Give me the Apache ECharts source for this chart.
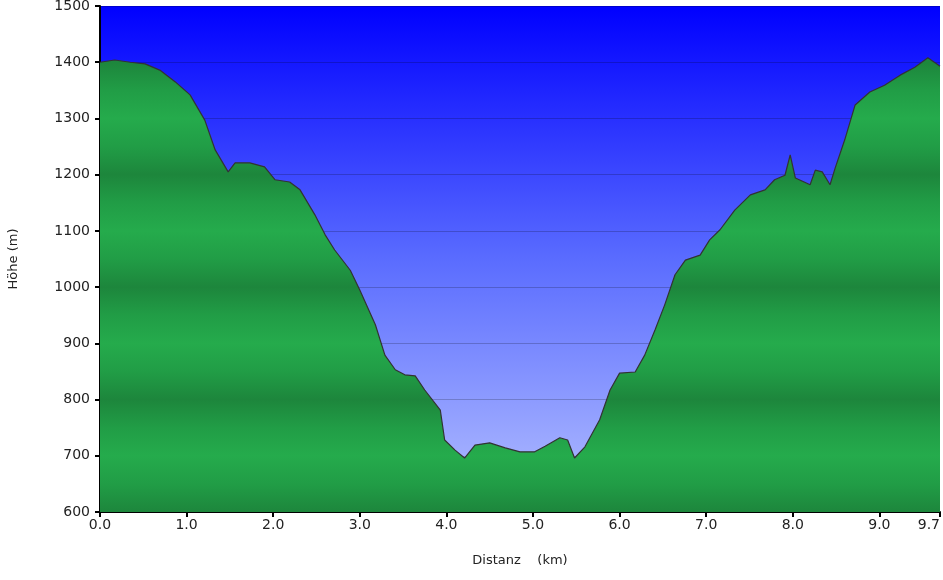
<!DOCTYPE html>
<html><head><meta charset="utf-8">
<script src="https://cdn.jsdelivr.net/npm/echarts@6/dist/echarts.min.js"></script>
<style>html,body{margin:0;padding:0;background:#fff}#c{width:943px;height:580px}</style>
</head><body><div id="c"></div>
<script>
const distKm = [0.00,0.17,0.35,0.52,0.69,0.87,1.04,1.21,1.33,1.48,1.56,1.73,1.90,2.02,2.19,2.31,2.48,2.60,2.71,2.89,3.00,3.18,3.29,3.41,3.52,3.64,3.75,3.93,3.98,4.10,4.21,4.33,4.50,4.68,4.85,5.02,5.14,5.31,5.40,5.48,5.60,5.77,5.89,6.00,6.18,6.29,6.41,6.52,6.64,6.76,6.93,7.04,7.16,7.33,7.51,7.68,7.79,7.91,7.97,8.03,8.20,8.26,8.34,8.43,8.49,8.60,8.72,8.89,9.06,9.24,9.41,9.56,9.70];
const elevM = [1400,1404,1400,1397,1386,1365,1342,1297,1244,1205,1221,1221,1214,1191,1187,1173,1129,1093,1066,1030,995,933,879,853,844,842,817,781,728,710,696,719,723,714,707,707,717,732,728,696,716,764,817,847,849,879,924,968,1022,1048,1057,1084,1102,1137,1164,1173,1191,1199,1235,1194,1182,1208,1205,1182,1212,1262,1324,1347,1359,1377,1391,1408,1393];
const xTicks = [0,1,2,3,4,5,6,7,8,9,9.7];

const gTop = 6, gBottom = 512;
const stops = [];
for (let e = 1500; e >= 600; e -= 50) {
  let c;
  if (e % 100 !== 0) c = '#219d46';
  else c = ([1300,1100,900,700].includes(e)) ? '#25ab4c' : '#1d863c';
  if (e === 1500) c = '#1d863c';
  stops.push({offset: (1500 - e) / 900, color: c});
}
const chart = echarts.init(document.getElementById('c'));
const font = 'DejaVu Sans';
chart.setOption({
  animation: false,
  grid: {left: 100, right: 3, top: gTop, bottom: 580 - gBottom, show: true, borderWidth: 0,
    outerBoundsMode: 'none', containLabel: false,
    backgroundColor: new echarts.graphic.LinearGradient(0, 0, 0, 1, [
      {offset: 0, color: '#0000ff'}, {offset: 0.5, color: '#5a6cff'}, {offset: 1, color: '#b5c0ff'}])},
  xAxis: {type: 'value', min: 0, max: 9.7, interval: 1,
    name: 'Distanz    (km)', nameLocation: 'middle', nameGap: 42,
    nameTextStyle: {fontFamily: font, fontSize: 13, color: '#222'},
    axisLine: {lineStyle: {color: '#000', width: 2}},
    axisTick: {show: true, customValues: xTicks, length: 5, lineStyle: {color: '#000', width: 2}},
    axisLabel: {customValues: xTicks, formatter: v => v.toFixed(1), fontFamily: font, fontSize: 14, color: '#222', margin: 6, alignMaxLabel: 'right'},
    splitLine: {show: false}},
  yAxis: {type: 'value', min: 600, max: 1500, interval: 100,
    name: 'Höhe (m)', nameLocation: 'middle', nameGap: 80, nameRotate: 90,
    nameTextStyle: {fontFamily: font, fontSize: 13, color: '#222'},
    axisLine: {show: true, lineStyle: {color: '#000', width: 2}},
    axisTick: {show: true, length: 5, lineStyle: {color: '#000', width: 2}},
    axisLabel: {formatter: v => String(v), fontFamily: font, fontSize: 14, color: '#222', margin: 10},
    splitLine: {show: true, lineStyle: {color: 'rgba(0,0,0,0.2)', width: 1}}},
  series: [{type: 'line', data: distKm.map((d, i) => [d, elevM[i]]), symbol: 'none',
    lineStyle: {color: '#333', width: 1.2}, z: 1,
    areaStyle: {origin: 'start', opacity: 1,
      color: new echarts.graphic.LinearGradient(0, gTop, 0, gBottom, stops, true)}}]
});
</script></body></html>
